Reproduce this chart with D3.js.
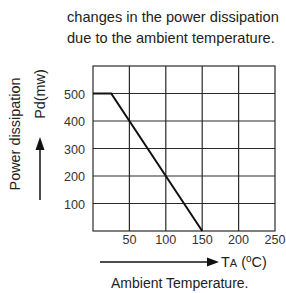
<!DOCTYPE html>
<html>
<head>
<meta charset="utf-8">
<script src="https://cdn.jsdelivr.net/npm/d3@7"></script>
<style>
  body { margin: 0; background: #fff; }
  svg { display: block; font-family: "Liberation Sans", Arial, sans-serif; }
</style>
</head>
<body>
<svg width="286" height="293"></svg>
<script>
// data
const curveTemps = [0, 25, 150];
const curvePower = [500, 500, 0];
const xTicks = [50, 100, 150, 200, 250];
const yTicks = [100, 200, 300, 400, 500];
const titleLines = ["changes in the power dissipation", "due to the ambient temperature."];

const svg = d3.select("svg");

const x = d3.scaleLinear().domain([0, 250]).range([93, 275]);
const y = d3.scaleLinear().domain([0, 600]).range([231, 66]);

// title
svg.selectAll(".title")
    .data(titleLines)
    .join("text")
    .attr("class", "title")
    .attr("x", 67)
    .attr("y", (d, i) => 22 + i * 21)
    .attr("font-size", 14.6)
    .attr("fill", "#222")
    .text(d => d);

// grid
const grid = svg.append("g").attr("stroke", "#2a2a2a").attr("stroke-width", 1.2);
grid.selectAll(".vx")
    .data(xTicks.slice(0, -1))
    .join("line")
    .attr("x1", d => x(d)).attr("x2", d => x(d))
    .attr("y1", y(0)).attr("y2", y(600));
grid.selectAll(".hy")
    .data(yTicks)
    .join("line")
    .attr("x1", x(0)).attr("x2", x(250))
    .attr("y1", d => y(d)).attr("y2", d => y(d));
grid.append("rect")
    .attr("x", x(0)).attr("y", y(600))
    .attr("width", x(250) - x(0)).attr("height", y(0) - y(600))
    .attr("fill", "none");

// curve
const pts = curveTemps.map((t, i) => [t, curvePower[i]]);
svg.append("path")
    .datum(pts)
    .attr("d", d3.line().x(d => x(d[0])).y(d => y(d[1])))
    .attr("fill", "none")
    .attr("stroke", "#111")
    .attr("stroke-width", 2);

// tick labels
svg.selectAll(".yl")
    .data(yTicks)
    .join("text")
    .attr("x", 85)
    .attr("y", d => y(d) + 5)
    .attr("text-anchor", "end")
    .attr("font-size", 12.6)
    .attr("fill", "#333")
    .text(d => d);
svg.selectAll(".xl")
    .data(xTicks)
    .join("text")
    .attr("x", d => x(d))
    .attr("y", 244)
    .attr("text-anchor", "middle")
    .attr("font-size", 12.6)
    .attr("fill", "#333")
    .text(d => d);

// y axis caption + arrow
svg.append("text")
    .attr("transform", "translate(20,134) rotate(-90)")
    .attr("text-anchor", "middle")
    .attr("font-size", 14.4)
    .attr("fill", "#222")
    .text("Power dissipation");
svg.append("text")
    .attr("transform", "translate(45,94) rotate(-90)")
    .attr("text-anchor", "middle")
    .attr("font-size", 14.4)
    .attr("fill", "#222")
    .text("Pd(mw)");
svg.append("line")
    .attr("x1", 40).attr("x2", 40).attr("y1", 200).attr("y2", 148)
    .attr("stroke", "#111").attr("stroke-width", 1.5);
svg.append("path")
    .attr("d", "M40,137 L35.5,150 L44.5,150 Z")
    .attr("fill", "#111");

// x axis caption + arrow
svg.append("line")
    .attr("x1", 100).attr("x2", 210).attr("y1", 262).attr("y2", 262)
    .attr("stroke", "#111").attr("stroke-width", 1.4);
svg.append("path")
    .attr("d", "M219,262 L207,257.5 L207,266.5 Z")
    .attr("fill", "#111");
const ta = svg.append("text")
    .attr("x", 221).attr("y", 267)
    .attr("font-size", 14.4)
    .attr("fill", "#222");
ta.append("tspan").text("T");
ta.append("tspan").attr("font-size", 11).text("A");
ta.append("tspan").text(" (");
ta.append("tspan").attr("font-size", 10).attr("dy", -5).text("o");
ta.append("tspan").attr("dy", 5).text("C)");

svg.append("text")
    .attr("x", 111).attr("y", 288)
    .attr("font-size", 14)
    .attr("fill", "#222")
    .text("Ambient Temperature.");
</script>
</body>
</html>
